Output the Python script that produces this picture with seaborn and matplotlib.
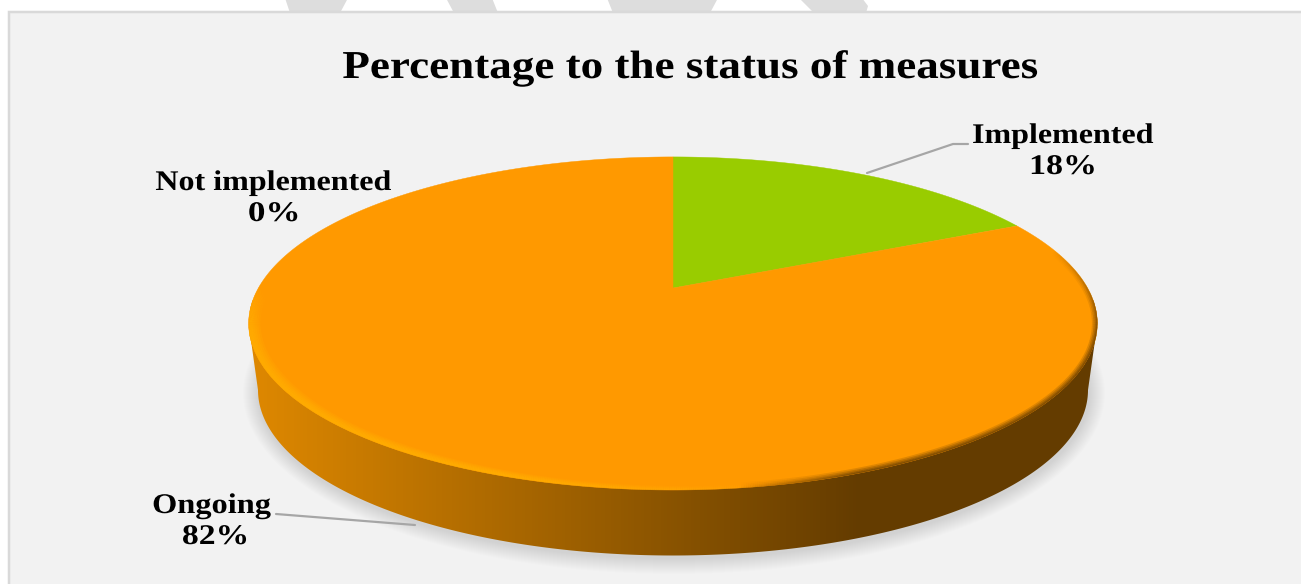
import numpy as np
import matplotlib
matplotlib.use("Agg")
import matplotlib.pyplot as plt
import matplotlib.colors as mcolors
import matplotlib.patheffects as pe
from matplotlib.collections import LineCollection
from matplotlib.patches import Polygon, Rectangle, Ellipse
from matplotlib.transforms import Affine2D
import seaborn as sns

# ---- data ----
categories = ["Implemented", "Ongoing", "Not implemented"]
shares = [18, 82, 0]
slice_colors = ["#99cc00", "#ff9900", "#3366cc"]
title_text = "Percentage to the status of measures"

sns.set_theme(style="white")
plt.rcParams["font.family"] = ["Liberation Serif", "DejaVu Serif"]
palette = sns.color_palette(slice_colors)

W, H = 1301, 584
fig = plt.figure(figsize=(W / 100, H / 100), dpi=100, facecolor="white")
ax = fig.add_axes([0, 0, 1, 1])
PX = 0.72  # points per pixel


class StretchTo(pe.AbstractPathEffect):
    """Draws a text run widened about its centre to a given pixel width."""

    def __init__(self, width_px):
        super().__init__()
        self.width_px = width_px

    def draw_path(self, renderer, gc, tpath, affine, rgbFace=None):
        box = tpath.get_extents(affine)
        sx = self.width_px / box.width
        cx = 0.5 * (box.x0 + box.x1)
        tr = affine + Affine2D().translate(-cx, 0).scale(sx, 1).translate(cx, 0)
        renderer.draw_path(gc, tpath, tr, rgbFace)


# ---- pie through the library, then laid into perspective ----
wedges, _ = ax.pie(shares, colors=palette, startangle=90, counterclock=False, radius=1)
CX, CY, RX, RY, K = 673.0, 288.0, 414.6, 159.0, 0.213


def project(deg, radius=1.0):
    u = radius * np.cos(np.radians(deg))
    v = radius * np.sin(np.radians(deg))
    d = 1 + K * v
    return CX + RX * u / d, CY - RY * v / d


faces = []
for w in wedges:
    w.remove()
    if abs(w.theta2 - w.theta1) < 1e-6:
        continue
    ang = np.linspace(w.theta1, w.theta2, 400)
    x, y = project(ang, w.r)
    pts = np.vstack([[CX, CY], np.column_stack([x, y])])
    faces.append((pts, w.get_facecolor()))

ax.set_aspect("auto")
ax.set_xlim(0, W)
ax.set_ylim(H, 0)
ax.axis("off")

# ---- page: watermark strokes and panel ----
for band in [
    [(285, -2), (348, -2), (340, 13), (290, 13)],
    [(446, -2), (492, -2), (498, 13), (454, 13)],
    [(607, -2), (718, -2), (710, 13), (613, 13)],
    [(799, -2), (862, -2), (868, 6), (866, 13), (814, 13)],
]:
    ax.add_patch(Polygon(band, fc="#dddddd", ec="none", zorder=1))
ax.add_patch(Rectangle((9, 12), 1320, 600, fc="#f2f2f2", ec="#d9d9d9", lw=2.5 * PX, zorder=2))

# ---- soft shadow ----
for i in range(16, 0, -1):
    ax.add_patch(Ellipse((674, 393), 2 * (415 + i), 2 * (165 + i), fc="black", ec="none", alpha=0.009, zorder=3))

# ---- side wall with horizontal gradient ----
TOP_C, TOP_A, TOP_B = (673.0, 323.5), 424.4, 166.5
BOT_C, BOT_A, BOT_B = (673.0, 390.0), 415.0, 165.5
t = np.radians(np.linspace(180, 360, 400))
bx = BOT_C[0] + BOT_A * np.cos(t)
by = BOT_C[1] - BOT_B * np.sin(t)
tt = np.radians(np.linspace(0, 180, 200))
ux = TOP_C[0] + TOP_A * np.cos(tt)
uy = TOP_C[1] - TOP_B * np.sin(tt)
side = Polygon(np.vstack([np.column_stack([bx, by]), np.column_stack([ux, uy])]), fc="none", ec="none", zorder=4)
ax.add_patch(side)
cmap = mcolors.LinearSegmentedColormap.from_list("wall", [(0, "#de8800"), (0.72, "#643c00"), (1, "#643c00")])
grad = ax.imshow(np.linspace(0, 1, 848)[None, :], extent=(250, 1098, 560, 300), aspect="auto", cmap=cmap, zorder=4)
grad.set_clip_path(side)
ax.set_xlim(0, W)
ax.set_ylim(H, 0)

# ---- top face ----
for pts, col in faces:
    ax.add_patch(Polygon(pts, closed=True, fc=col, ec=col, lw=0.3, zorder=5))

# ---- rim: bright on the lower left, dark on the lower right ----
a = np.radians(np.linspace(0, 360, 1441))
ex = TOP_C[0] + TOP_A * np.cos(a)
ey = TOP_C[1] + TOP_B * np.sin(a)
segs = np.stack([np.column_stack([ex[:-1], ey[:-1]]), np.column_stack([ex[1:], ey[1:]])], axis=1)
mx, my = 0.5 * (ex[:-1] + ex[1:]), 0.5 * (ey[:-1] + ey[1:])
clip = Ellipse(TOP_C, 2 * TOP_A, 2 * TOP_B, fc="none", ec="none", zorder=5)
ax.add_patch(clip)

hi_a = np.clip((800 - mx) / 300, 0, 1) * np.clip((my - 280) / 55, 0, 1)
hi_w = np.interp(mx, [250, 340, 620, 800], [8.0, 5.5, 3.2, 2.2])
for scale, level in [(3.0, 0.22), (2.5, 0.26), (2.0, 0.3), (1.5, 0.35), (1.0, 0.4)]:
    rgba = np.tile(mcolors.to_rgba("#ffb000"), (len(mx), 1))
    rgba[:, 3] = hi_a * level
    lc = LineCollection(segs, colors=rgba, linewidths=hi_w * scale * PX, zorder=6, capstyle="butt")
    ax.add_collection(lc)
    lc.set_clip_path(clip)

dk_a = np.clip((mx - 740) / 120, 0, 1) * np.clip((my - 250) / 90, 0.0, 1)
for width, level in [(11, 0.2), (8, 0.28), (5, 0.35), (2.5, 0.45)]:
    rgba = np.tile(mcolors.to_rgba("#643c00"), (len(mx), 1))
    rgba[:, 3] = dk_a * level
    lc = LineCollection(segs, colors=rgba, linewidths=width * PX, zorder=6, capstyle="butt")
    ax.add_collection(lc)
    lc.set_clip_path(clip)

# ---- leader lines ----
ax.plot([867, 953, 968], [173, 144, 144], color="#a6a6a6", lw=2.2 * PX, zorder=7, solid_joinstyle="round")
ax.plot([276, 415], [514, 525], color="#a6a6a6", lw=2.2 * PX, zorder=7)


# ---- texts ----
def label(s, xc, base, width, size):
    ax.text(xc, base, s, ha="center", va="baseline", fontsize=size, fontweight="bold",
            color="black", zorder=8, path_effects=[StretchTo(width)])


label(title_text, 690, 78, 694, 28.5)
label(categories[0], 1063, 143, 180, 20.5)
label(f"{shares[0]}%", 1063, 174, 62, 20.5)
label(categories[2], 273.5, 190, 235, 20.5)
label(f"{shares[2]}%", 274, 221, 48, 20.5)
label(categories[1], 211.5, 513, 117, 20.5)
label(f"{shares[1]}%", 215.5, 544, 63, 20.5)

fig.savefig("out.png", dpi=100, facecolor="white")
